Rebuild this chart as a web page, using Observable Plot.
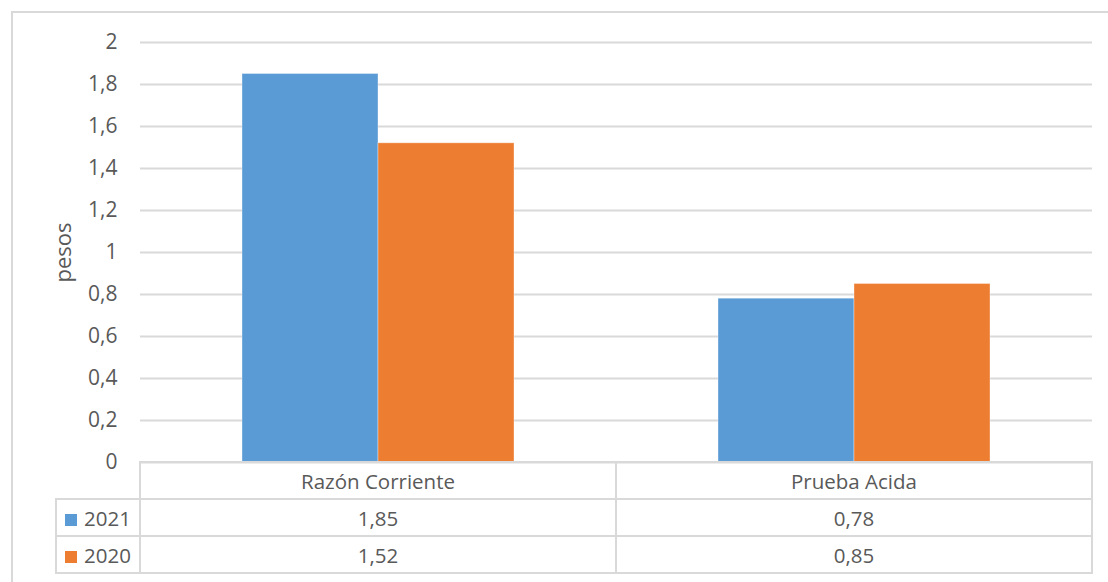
<!DOCTYPE html>
<html>
<head>
<meta charset="utf-8">
<script src="https://cdn.jsdelivr.net/npm/d3@7"></script>
<script src="https://cdn.jsdelivr.net/npm/@observablehq/plot@0.6"></script>
<style>
  html, body { margin: 0; padding: 0; background: #fff; }
  body { width: 1108px; height: 582px; position: relative; overflow: hidden; font-family: "Open Sans", sans-serif; color: #595959; }
  #frame { position: absolute; left: 11px; top: 11px; width: 1110px; height: 590px; border-left: 2px solid #d9d9d9; border-top: 2px solid #d9d9d9; box-sizing: border-box; }
  #chart { position: absolute; left: 0; top: 0; }
  #tbl { position: absolute; left: 55px; top: 461px; border-collapse: collapse; table-layout: fixed; font-size: 20.5px; color: #595959; }
  #tbl td { border: 2px solid #d9d9d9; text-align: center; padding: 0; height: 35px; line-height: 24px; white-space: nowrap; }
  #tbl td.blank { border-left: none; border-top: none; border-bottom: 2px solid #d9d9d9; }
  #tbl td.leg { text-align: left; padding-left: 8px; }
  .sw { display: inline-block; width: 12px; height: 12px; margin-right: 7px; vertical-align: 0px; }
</style>
</head>
<body>
<div id="frame"></div>
<div id="chart"></div>
<table id="tbl"></table>
<script>
const categories = ["Razón Corriente", "Prueba Acida"];
const series = ["2021", "2020"];
const values2021 = [1.85, 0.78];
const values2020 = [1.52, 0.85];
const colors = ["#5B9BD5", "#ED7D31"];
const yTicks = [0, 0.2, 0.4, 0.6, 0.8, 1, 1.2, 1.4, 1.6, 1.8, 2];
const yLabel = "pesos";

const valuesBySeries = [values2021, values2020];
const data = [];
series.forEach((s, si) => categories.forEach((c, ci) => data.push({category: c, series: s, value: valuesBySeries[si][ci]})));

const fmt = d => String(d).replace(".", ",");

const chart = Plot.plot({
  width: 1108,
  height: 463,
  marginLeft: 140,
  marginRight: 16,
  marginTop: 42,
  marginBottom: 1,
  style: { fontFamily: "Open Sans, sans-serif", fontSize: "21px", color: "#595959", background: "transparent", overflow: "visible" },
  fx: { domain: categories, padding: 0, axis: null },
  x: { domain: series, paddingInner: 0, paddingOuter: 0.75, axis: null },
  y: { domain: [0, 2], ticks: yTicks },
  color: { domain: series, range: colors },
  marks: [
    Plot.gridY(yTicks, { stroke: "#d9d9d9", strokeOpacity: 1, strokeWidth: 2 }),
    Plot.barY(data, { fx: "category", x: "series", y: "value", fill: "series", stroke: "#ffffff", strokeOpacity: 0.35, strokeWidth: 1 }),
    Plot.axisY(yTicks, { tickSize: 0, tickPadding: 23, tickFormat: fmt, fill: "#595959", fontSize: 21, label: null }),
    Plot.text([yLabel], { fx: [categories[0]], text: d => d, frameAnchor: "left", textAnchor: "middle", dx: -77, rotate: -90,
      fill: "#595959", fontSize: 22 })
  ]
});
document.getElementById("chart").appendChild(chart);

// data table below the chart, built from the same arrays
const tbl = document.getElementById("tbl");
const colgroup = document.createElement("colgroup");
[84, 476, 476].forEach(w => { const c = document.createElement("col"); c.style.width = w + "px"; colgroup.appendChild(c); });
tbl.appendChild(colgroup);
const head = document.createElement("tr");
const blank = document.createElement("td"); blank.className = "blank"; head.appendChild(blank);
categories.forEach(c => { const td = document.createElement("td"); td.textContent = c; head.appendChild(td); });
head.firstChild.style.height = "34px";
tbl.appendChild(head);
series.forEach((s, si) => {
  const tr = document.createElement("tr");
  const lg = document.createElement("td"); lg.className = "leg";
  const sw = document.createElement("span"); sw.className = "sw"; sw.style.background = colors[si];
  lg.appendChild(sw); lg.appendChild(document.createTextNode(s));
  tr.appendChild(lg);
  valuesBySeries[si].forEach(v => { const td = document.createElement("td"); td.textContent = fmt(v); tr.appendChild(td); });
  tbl.appendChild(tr);
});
</script>
</body>
</html>
